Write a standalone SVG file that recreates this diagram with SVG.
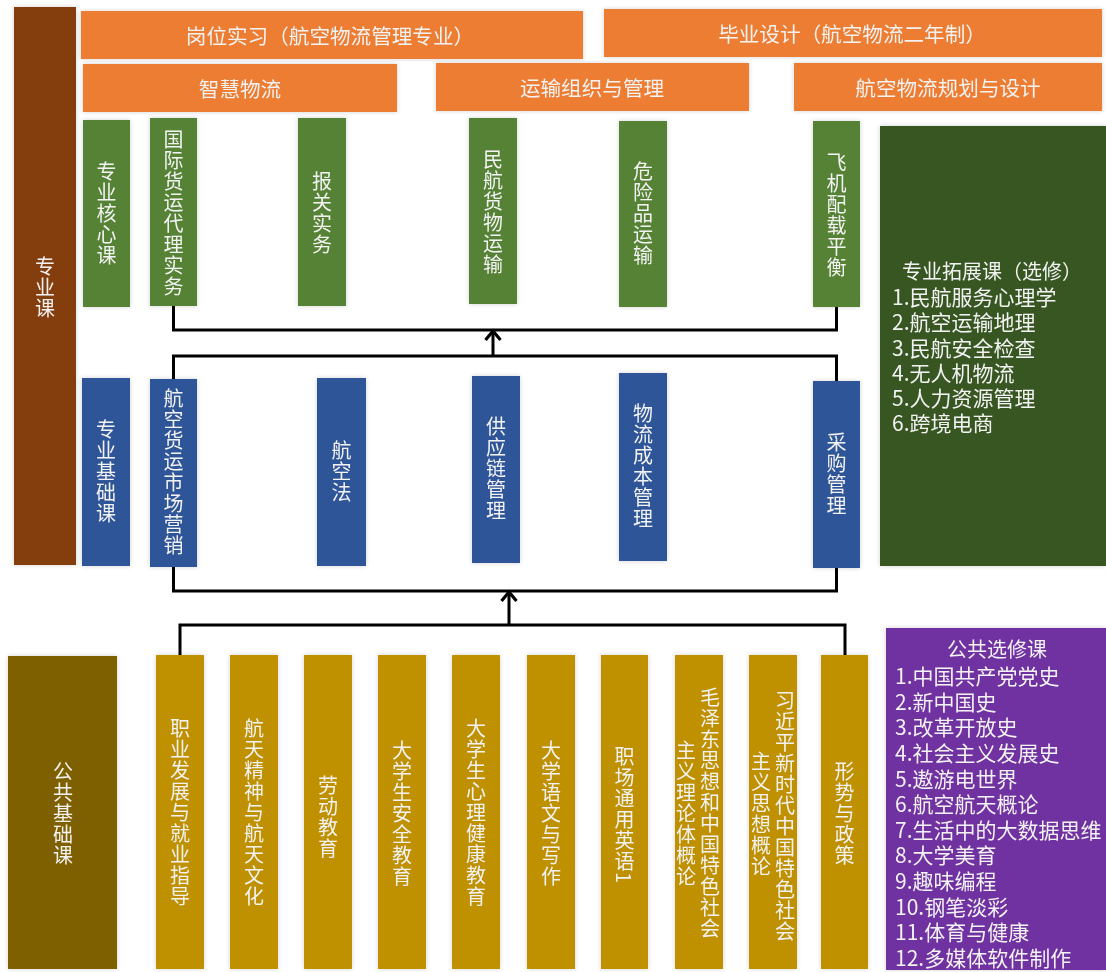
<svg xmlns="http://www.w3.org/2000/svg" width="1106" height="972" viewBox="0 0 1106 972">
<style>
.o{fill:#ed7d31}
.g{fill:#548235}
.b{fill:#2f5597}
.y{fill:#bf9000}
.t{font-family:"Noto Sans CJK SC","Liberation Sans",sans-serif;font-size:20px;fill:#f2f2f2}
.v{writing-mode:vertical-rl;text-anchor:middle;letter-spacing:1px}
.h{text-anchor:middle;dominant-baseline:central}
.hb{font-size:20.6px}
.l{font-size:21px;dominant-baseline:central}
.c{fill:none;stroke:#000;stroke-width:3}
</style>
<defs>
<filter id="sh" x="-20%" y="-5%" width="140%" height="110%">
<feGaussianBlur in="SourceAlpha" stdDeviation="2.5"/>
<feComponentTransfer><feFuncA type="linear" slope="0.18"/></feComponentTransfer>
<feMerge><feMergeNode/><feMergeNode in="SourceGraphic"/></feMerge>
</filter>
<marker id="arr" markerUnits="userSpaceOnUse" markerWidth="24" markerHeight="24" viewBox="-14 -12 18 24" refX="0" refY="0" orient="auto" overflow="visible">
<path d="M-9,-7.5 L0,0 L-9,7.5" fill="none" stroke="#000" stroke-width="3.2"/>
</marker>
</defs>
<rect width="1106" height="972" fill="#fff"/>

<g id="connectors">
<path class="c" d="M173.5,306 V330 H836.5 V307"/>
<path class="c" d="M173.5,379 V356 H836.5 V381"/>
<line class="c" x1="493" y1="356" x2="493" y2="331" marker-end="url(#arr)"/>
<path class="c" d="M173.5,567 V591 H836.5 V568"/>
<path class="c" d="M180,655 V625 H845 V655"/>
<line class="c" x1="509" y1="625" x2="509" y2="592" marker-end="url(#arr)"/>
</g>

<g id="zhuanyeke" filter="url(#sh)"><rect x="14" y="7" width="62" height="558" fill="#843c0c"/><text class="t v" x="45" y="288">专业课</text></g>

<g id="gangwei" filter="url(#sh)"><rect class="o" x="81" y="11" width="502" height="48"/><text class="t h hb" x="330" y="35">岗位实习（航空物流管理专业）</text></g>
<g id="biye" filter="url(#sh)"><rect class="o" x="604" y="9" width="498" height="48"/><text class="t h hb" x="852" y="33">毕业设计（航空物流二年制）</text></g>
<g id="zhihui" filter="url(#sh)"><rect class="o" x="83" y="64" width="314" height="48"/><text class="t h hb" x="240" y="88">智慧物流</text></g>
<g id="yunshu" filter="url(#sh)"><rect class="o" x="436" y="63" width="313" height="48"/><text class="t h hb" x="592" y="87">运输组织与管理</text></g>
<g id="guihua" filter="url(#sh)"><rect class="o" x="794" y="63" width="308" height="48"/><text class="t h hb" x="948" y="87">航空物流规划与设计</text></g>

<g id="hexin" filter="url(#sh)"><rect class="g" x="83" y="120" width="47" height="187"/><text class="t v" x="106.5" y="214">专业核心课</text></g>
<g id="guoji" filter="url(#sh)"><rect class="g" x="150" y="118" width="47" height="188"/><text class="t v" x="173.5" y="213">国际货运代理实务</text></g>
<g id="baoguan" filter="url(#sh)"><rect class="g" x="298" y="118" width="48" height="188"/><text class="t v" x="322" y="213">报关实务</text></g>
<g id="minhang" filter="url(#sh)"><rect class="g" x="469" y="118" width="48" height="186"/><text class="t v" x="493" y="212">民航货物运输</text></g>
<g id="weixian" filter="url(#sh)"><rect class="g" x="619" y="121" width="48" height="186"/><text class="t v" x="643" y="214">危险品运输</text></g>
<g id="feiji" filter="url(#sh)"><rect class="g" x="813" y="121" width="47" height="186"/><text class="t v" x="836.5" y="215">飞机配载平衡</text></g>

<g id="tuozhan" filter="url(#sh)"><rect x="880" y="126" width="226" height="440" fill="#385723"/>
<text class="t" x="902" y="270" style="dominant-baseline:central">专业拓展课（选修）</text>
<text class="t l" x="892" y="296">1.民航服务心理学</text>
<text class="t l" x="892" y="321">2.航空运输地理</text>
<text class="t l" x="892" y="346.5">3.民航安全检查</text>
<text class="t l" x="892" y="372">4.无人机物流</text>
<text class="t l" x="892" y="397">5.人力资源管理</text>
<text class="t l" x="892" y="422">6.跨境电商</text>
</g>

<g id="jichu" filter="url(#sh)"><rect class="b" x="82" y="378" width="48" height="188"/><text class="t v" x="106" y="472">专业基础课</text></g>
<g id="shichang" filter="url(#sh)"><rect class="b" x="150" y="379" width="47" height="188"/><text class="t v" x="173.5" y="472">航空货运市场营销</text></g>
<g id="hangkongfa" filter="url(#sh)"><rect class="b" x="317" y="378" width="49" height="188"/><text class="t v" x="341.5" y="472">航空法</text></g>
<g id="gongying" filter="url(#sh)"><rect class="b" x="472" y="376" width="48" height="187"/><text class="t v" x="496" y="469">供应链管理</text></g>
<g id="chengben" filter="url(#sh)"><rect class="b" x="619" y="373" width="48" height="188"/><text class="t v" x="643" y="466">物流成本管理</text></g>
<g id="caigou" filter="url(#sh)"><rect class="b" x="813" y="381" width="47" height="187"/><text class="t v" x="836.5" y="474">采购管理</text></g>

<g id="gonggong" filter="url(#sh)"><rect x="8" y="656" width="109" height="313" fill="#7f6000"/><text class="t v" x="63" y="814">公共基础课</text></g>
<g id="zhiye" filter="url(#sh)"><rect class="y" x="156" y="655" width="48" height="314"/><text class="t v" x="180" y="813">职业发展与就业指导</text></g>
<g id="hangtian" filter="url(#sh)"><rect class="y" x="230" y="655" width="48" height="314"/><text class="t v" x="254" y="813">航天精神与航天文化</text></g>
<g id="laodong" filter="url(#sh)"><rect class="y" x="304" y="655" width="48" height="314"/><text class="t v" x="328" y="817">劳动教育</text></g>
<g id="anquan" filter="url(#sh)"><rect class="y" x="378" y="655" width="48" height="314"/><text class="t v" x="402" y="814">大学生安全教育</text></g>
<g id="xinli" filter="url(#sh)"><rect class="y" x="452" y="655" width="48" height="314"/><text class="t v" x="476" y="813">大学生心理健康教育</text></g>
<g id="yuwen" filter="url(#sh)"><rect class="y" x="527" y="655" width="48" height="314"/><text class="t v" x="551" y="814">大学语文与写作</text></g>
<g id="yingyu" filter="url(#sh)"><rect class="y" x="601" y="655" width="47" height="314"/><text class="t v" x="624.5" y="815">职场通用英语1</text></g>
<g id="maogai" filter="url(#sh)"><rect class="y" x="675" y="655" width="48" height="314"/><text class="t v" x="710" y="813">毛泽东思想和中国特色社会</text><text class="t v" x="686" y="814">主义理论体概论</text></g>
<g id="xigai" filter="url(#sh)"><rect class="y" x="749" y="655" width="48" height="314"/><text class="t v" x="785" y="816">习近平新时代中国特色社会</text><text class="t v" x="761" y="814">主义思想概论</text></g>
<g id="xingshi" filter="url(#sh)"><rect class="y" x="821" y="655" width="47" height="314"/><text class="t v" x="844.5" y="814">形势与政策</text></g>

<g id="xuanxiu" filter="url(#sh)"><rect x="886" y="628" width="220" height="342" fill="#7030a0"/>
<text class="t h" x="997" y="648">公共选修课</text>
<text class="t l" x="895" y="675">1.中国共产党党史</text>
<text class="t l" x="895" y="700.5">2.新中国史</text>
<text class="t l" x="895" y="726">3.改革开放史</text>
<text class="t l" x="895" y="752">4.社会主义发展史</text>
<text class="t l" x="895" y="777.5">5.遨游电世界</text>
<text class="t l" x="895" y="803">6.航空航天概论</text>
<text class="t l" x="895" y="828.5">7.生活中的大数据思维</text>
<text class="t l" x="895" y="854">8.大学美育</text>
<text class="t l" x="895" y="880">9.趣味编程</text>
<text class="t l" x="895" y="905.5">10.钢笔淡彩</text>
<text class="t l" x="895" y="931">11.体育与健康</text>
<text class="t l" x="895" y="956.5">12.多媒体软件制作</text>
</g>
</svg>
